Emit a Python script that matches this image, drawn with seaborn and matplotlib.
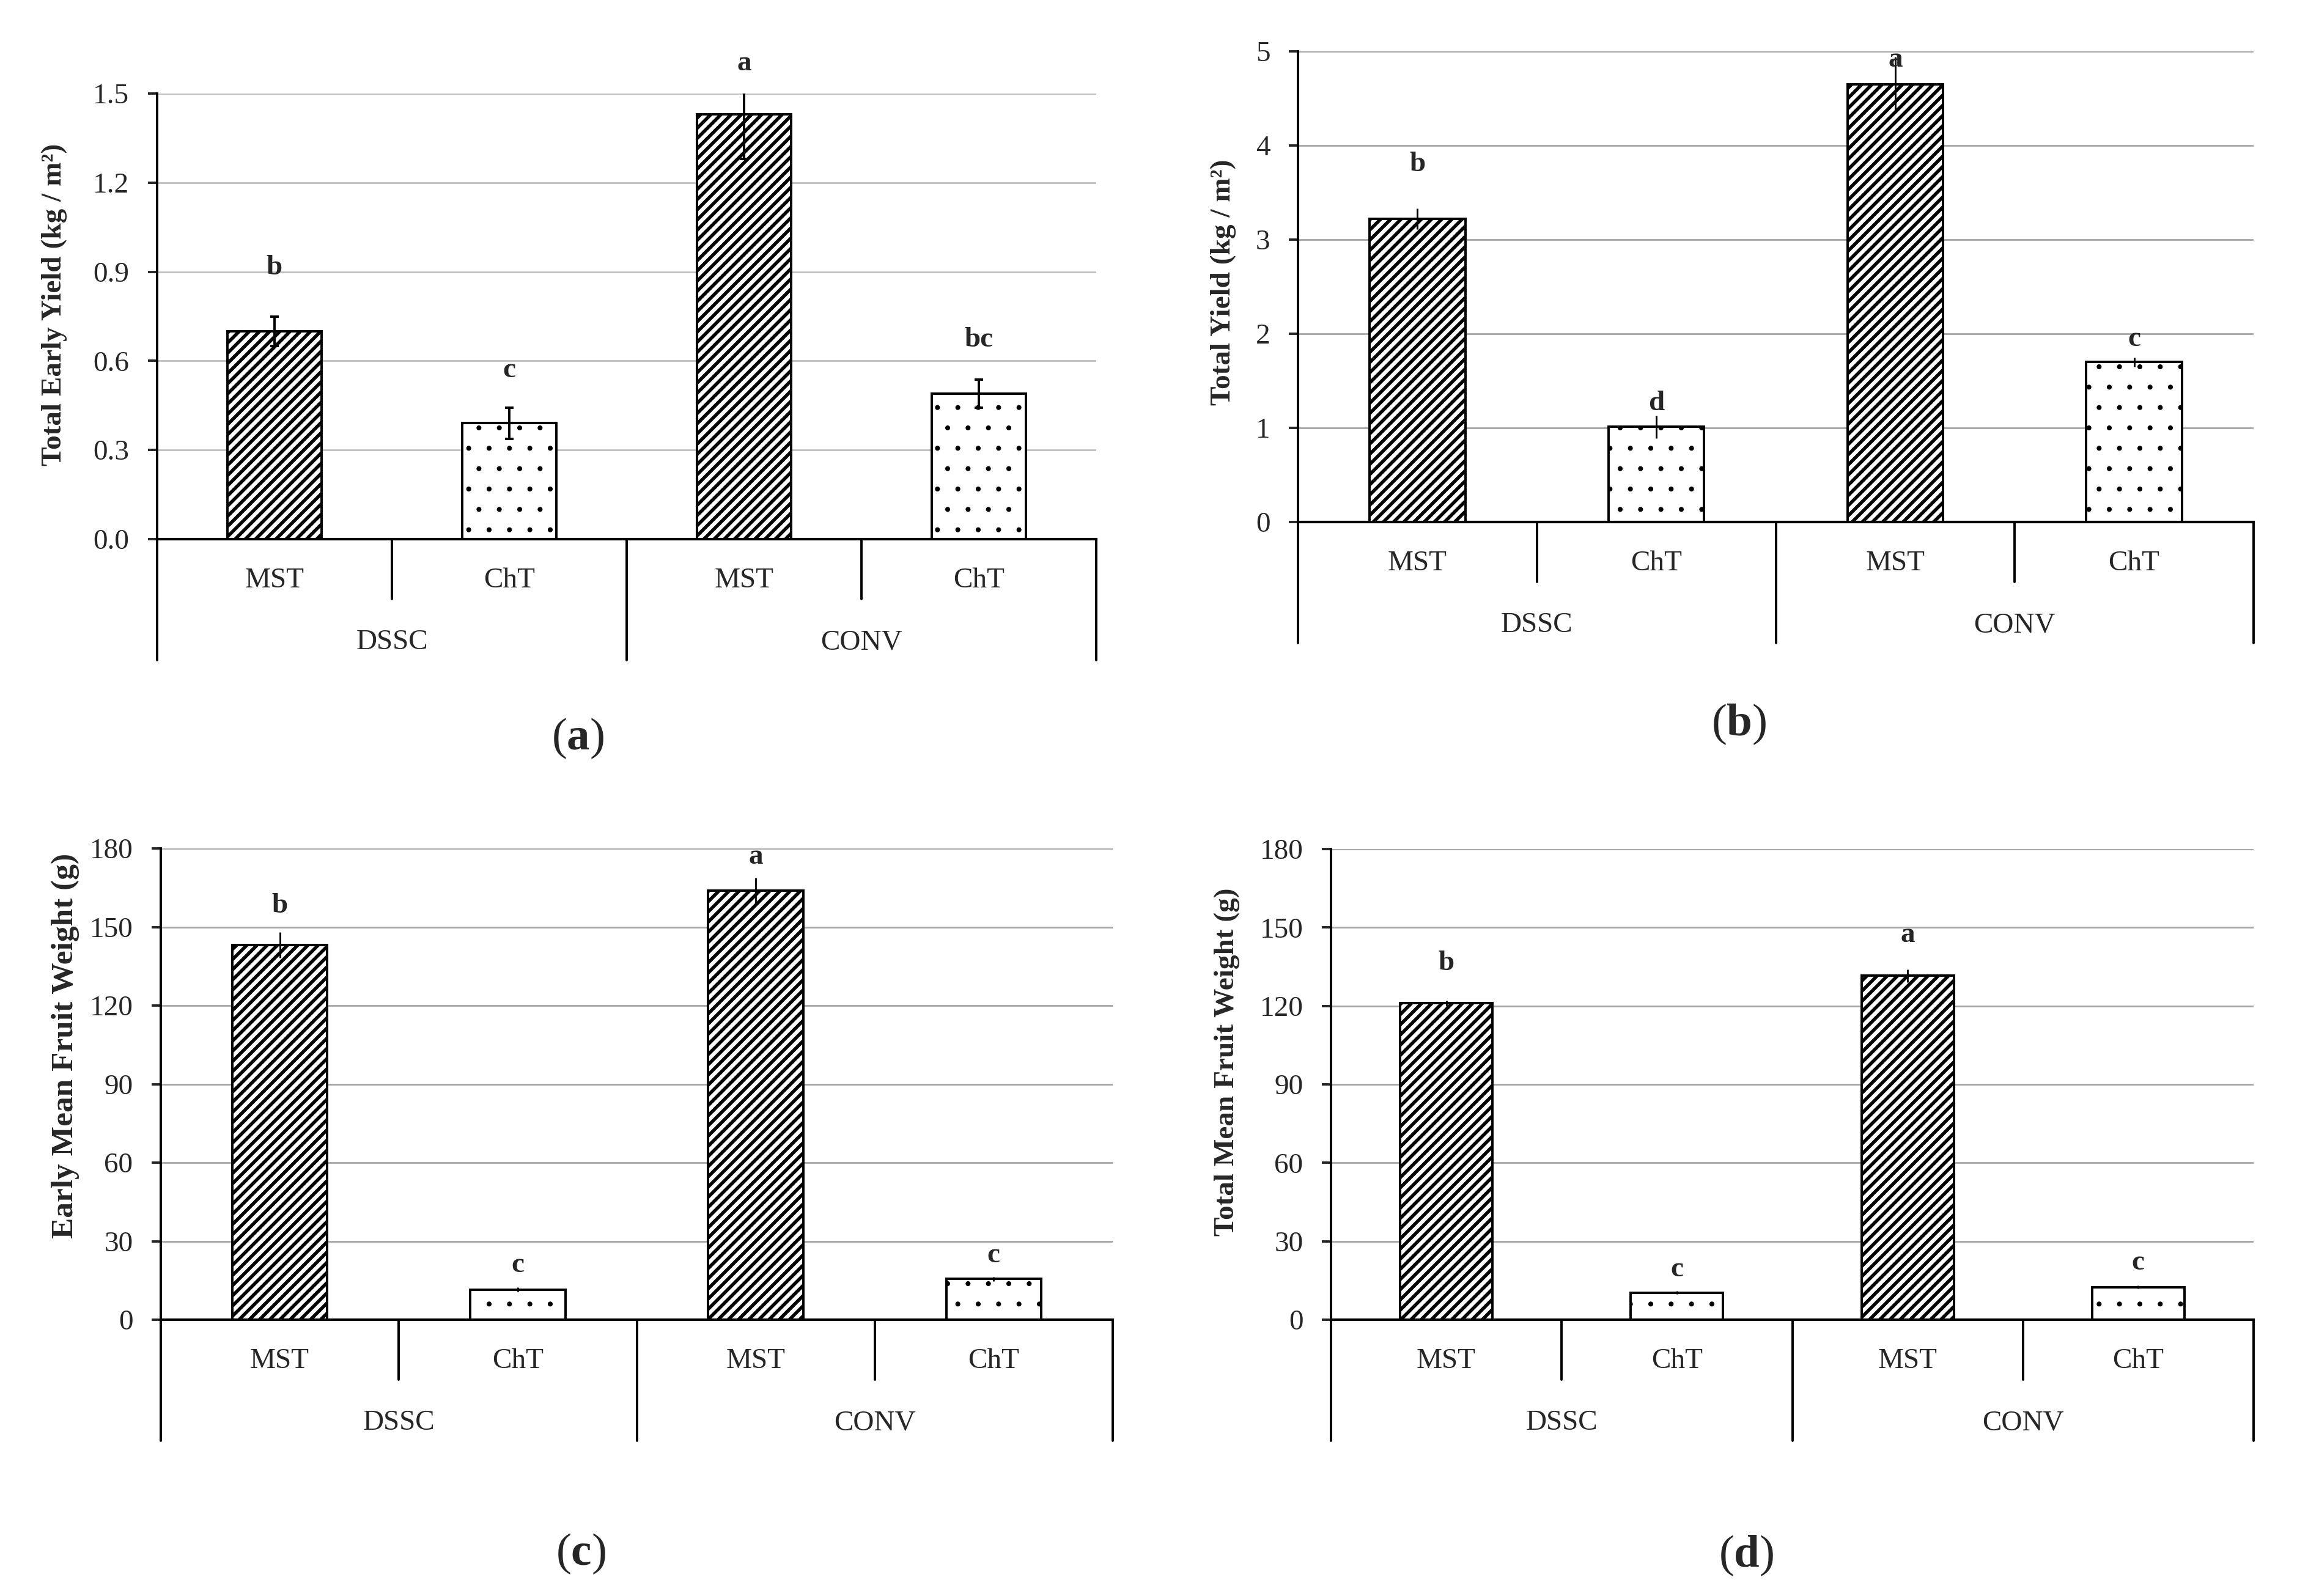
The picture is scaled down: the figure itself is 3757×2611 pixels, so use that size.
import numpy as np
import pandas as pd
import matplotlib
matplotlib.use("Agg")
import matplotlib.pyplot as plt
import matplotlib.transforms as mtransforms
import seaborn as sns

# categories (two-level axis: method inside cropping system)
systems = ["DSSC", "DSSC", "CONV", "CONV"]
methods = ["MST", "ChT", "MST", "ChT"]

# (a) total early yield, kg/m2
early_yield = [0.70, 0.39, 1.43, 0.49]
early_yield_err = [0.05, 0.053, 0.15, 0.047]
early_yield_letters = ["b", "c", "a", "bc"]
early_yield_letter_y = [0.913, 0.568, 1.60, 0.67]

# (b) total yield, kg/m2
total_yield = [3.22, 1.01, 4.65, 1.70]
total_yield_err = [0.11, 0.12, 0.29, 0.05]
total_yield_letters = ["b", "d", "a", "c"]
total_yield_letter_y = [3.80, 1.26, 4.91, 1.94]

# (c) early mean fruit weight, g
early_weight = [143.1, 11.5, 163.8, 15.6]
early_weight_err = [4.9, 0.8, 5.0, 0.8]
early_weight_letters = ["b", "c", "a", "c"]
early_weight_letter_y = [158.0, 20.7, 176.7, 24.4]

# (d) total mean fruit weight, g
total_weight = [121.0, 10.4, 131.5, 12.5]
total_weight_err = [1.0, 0.5, 2.5, 0.5]
total_weight_letters = ["b", "c", "a", "c"]
total_weight_letter_y = [136.4, 19.2, 147.0, 21.7]

sns.set_style("white")
plt.rcParams["font.family"] = ["Liberation Serif", "DejaVu Serif"]
plt.rcParams["mathtext.fontset"] = "custom"
plt.rcParams["mathtext.rm"] = "Liberation Serif"
plt.rcParams["mathtext.bf"] = "Liberation Serif:bold"
plt.rcParams["hatch.linewidth"] = 2.0

DPI = 200
W_PX, H_PX = 3757, 2611
fig = plt.figure(figsize=(W_PX / DPI, H_PX / DPI), dpi=DPI)


def px_axes(left, right, top, zero):
    # axes box from pixel edges of the reference
    return fig.add_axes([left / W_PX, 1 - zero / H_PX,
                         (right - left) / W_PX, (zero - top) / H_PX])


def draw_panel(ax, values, errs, letters, letter_y, ymax, step, fmt,
               grid_color, caps):
    df = pd.DataFrame({"group": [f"{s} {m}" for s, m in zip(systems, methods)],
                       "value": values})
    sns.barplot(data=df, x="group", y="value", color="white", saturation=1,
                edgecolor="black", linewidth=1.4, width=0.4, errorbar=None,
                ax=ax, zorder=2)
    for bar, m in zip(ax.patches, methods):
        bar.set_facecolor("white")
        if m == "MST":
            bar.set_hatch("////")
            if hasattr(bar, "set_hatch_linewidth"):
                bar.set_hatch_linewidth(2.0)
        else:
            bar.set_hatch(".")
            if hasattr(bar, "set_hatch_linewidth"):
                bar.set_hatch_linewidth(0.5)

    xs = [b.get_x() + b.get_width() / 2 for b in ax.patches]
    if caps:
        ax.errorbar(xs, values, yerr=errs, fmt="none", ecolor="black",
                    elinewidth=1.4, capsize=2.6, capthick=1.4, zorder=3)
    else:
        ax.errorbar(xs, values, yerr=errs, fmt="none", ecolor="black",
                    elinewidth=1.0, capsize=0, zorder=3)

    for x, let, ly in zip(xs, letters, letter_y):
        ax.text(x, ly, let, ha="center", va="center", fontsize=17,
                fontweight="bold", clip_on=False, zorder=4)

    ax.set_xlim(-0.5, 3.5)
    ax.set_ylim(0, ymax)
    ticks = np.arange(0, ymax + step / 2, step)
    ax.set_yticks(ticks)
    ax.set_yticklabels([fmt.format(t) for t in ticks], fontsize=17)
    ax.tick_params(axis="y", direction="out", length=5.4, width=1.4, pad=11,
                   left=True)
    ax.set_xticks([])
    ax.set_xlabel("")
    ax.set_ylabel("")
    ax.yaxis.grid(True, color=grid_color, linewidth=1.0)
    ax.set_axisbelow(True)
    for side in ["top", "right"]:
        ax.spines[side].set_visible(False)
    ax.spines["left"].set_linewidth(1.4)
    ax.spines["bottom"].set_linewidth(1.5)
    ax.spines["left"].set_color("black")
    ax.spines["bottom"].set_color("black")

    # two-level category axis under the plot
    h_px = ax.get_position().height * H_PX
    trans = mtransforms.blended_transform_factory(ax.transData, ax.transAxes)
    long_d = 198 / h_px
    short_d = 98 / h_px
    for x in [-0.5, 1.5, 3.5]:
        ax.plot([x, x], [0, -long_d], transform=trans, clip_on=False,
                color="black", linewidth=1.4)
    for x in [0.5, 2.5]:
        ax.plot([x, x], [0, -short_d], transform=trans, clip_on=False,
                color="black", linewidth=1.4)
    for i, m in enumerate(methods):
        ax.text(i, -68 / h_px, m, transform=trans, ha="center", va="center",
                fontsize=17)
    for xc, s in [(0.5, systems[0]), (2.5, systems[2])]:
        ax.text(xc, -169 / h_px, s, transform=trans, ha="center",
                va="center", fontsize=17)


ax_a = px_axes(257, 1793, 153, 882)
draw_panel(ax_a, early_yield, early_yield_err, early_yield_letters,
           early_yield_letter_y, 1.5, 0.3, "{:.1f}", "#BFBFBF", True)

ax_b = px_axes(2123, 3686, 84, 854)
draw_panel(ax_b, total_yield, total_yield_err, total_yield_letters,
           total_yield_letter_y, 5, 1, "{:.0f}", "#A6A6A6", False)

ax_c = px_axes(263, 1820, 1388, 2159)
draw_panel(ax_c, early_weight, early_weight_err, early_weight_letters,
           early_weight_letter_y, 180, 30, "{:.0f}", "#A6A6A6", False)

ax_d = px_axes(2177, 3686, 1389, 2159)
draw_panel(ax_d, total_weight, total_weight_err, total_weight_letters,
           total_weight_letter_y, 180, 30, "{:.0f}", "#A6A6A6", False)

# y-axis titles
ylabels = [
    ("Total Early Yield (kg / m²)", 89, 498, 17),
    ("Total Yield (kg / m²)", 2001, 462, 17),
    ("Early Mean Fruit Weight (g)", 107, 1711, 18.5),
    ("Total Mean Fruit Weight (g)", 2007, 1737, 17),
]
for text, x, y, fs in ylabels:
    fig.text(x / W_PX, 1 - y / H_PX, text, rotation=90, ha="center",
             va="center", fontsize=fs, fontweight="bold")

# panel letters
panel_tags = [("a", 945, 1208), ("b", 2844, 1185), ("c", 950, 2542),
              ("d", 2856, 2545)]
for tag, x, y in panel_tags:
    fig.text(x / W_PX, 1 - y / H_PX, "(" + r"$\mathbf{" + tag + "}$" + ")",
             ha="center", va="center", fontsize=27)

fig.savefig("out.png", dpi=DPI, facecolor="white")
